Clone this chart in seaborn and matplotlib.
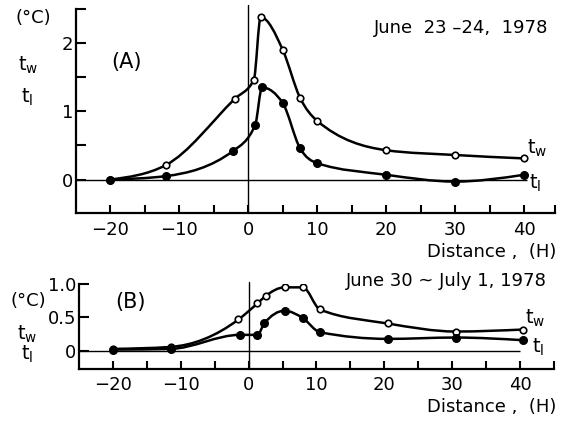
import matplotlib
matplotlib.use("Agg")
import matplotlib.pyplot as plt
from matplotlib.path import Path
from matplotlib.patches import PathPatch
import numpy as np
import pandas as pd
import seaborn as sns

# panel A, June 23-24 1978
a_tw_x = [-20, -12, -2, 0.8, 1.8, 5, 7.5, 10, 20, 30, 40]
a_tw_y = [0.0, 0.21, 1.18, 1.46, 2.38, 1.90, 1.20, 0.86, 0.43, 0.36, 0.31]
a_tl_x = [-20, -12, -2.2, 1, 2, 5, 7.5, 10, 20, 30, 40]
a_tl_y = [0.0, 0.05, 0.42, 0.80, 1.35, 1.12, 0.46, 0.24, 0.07, -0.03, 0.07]

# panel B, June 30 - July 1 1978
b_tw_x = [-20, -11.5, -1.5, 1.3, 2.5, 5.3, 8, 10.5, 20.5, 30.5, 40.5]
b_tw_y = [0.03, 0.06, 0.47, 0.71, 0.82, 0.95, 0.95, 0.62, 0.41, 0.29, 0.32]
b_tl_x = [-20, -11.5, -1.3, 1.3, 2.3, 5.3, 8, 10.5, 20.5, 30.5, 40.5]
b_tl_y = [0.02, 0.03, 0.24, 0.24, 0.41, 0.60, 0.49, 0.28, 0.18, 0.20, 0.16]

x_major = [-20, -10, 0, 10, 20, 30, 40]

sns.set_style("ticks")
plt.rcParams['font.family'] = ['DejaVu Sans']
plt.rcParams['mathtext.fontset'] = 'dejavusans'
for key in ['text.color', 'axes.labelcolor', 'xtick.color', 'ytick.color', 'axes.edgecolor']:
    plt.rcParams[key] = 'black'
FS = 13


def smooth_curve(ax, xs, ys, lw=1.8):
    # monotone cubic drawn as bezier path through the measured points
    x = np.asarray(xs, float)
    y = np.asarray(ys, float)
    h = np.diff(x)
    s = np.diff(y) / h
    n = len(x)
    m = np.zeros(n)
    for i in range(1, n - 1):
        if s[i - 1] * s[i] <= 0:
            m[i] = 0
        else:
            p = (s[i - 1] * h[i] + s[i] * h[i - 1]) / (h[i - 1] + h[i])
            m[i] = np.sign(s[i]) * min(abs(s[i - 1]), abs(s[i]), 0.5 * abs(p)) * 2
    m[0] = (3 * s[0] - m[1]) / 2
    m[-1] = (3 * s[-1] - m[-2]) / 2
    verts = [(x[0], y[0])]
    codes = [Path.MOVETO]
    for i in range(n - 1):
        verts += [(x[i] + h[i] / 3, y[i] + m[i] * h[i] / 3),
                  (x[i + 1] - h[i] / 3, y[i + 1] - m[i + 1] * h[i] / 3),
                  (x[i + 1], y[i + 1])]
        codes += [Path.CURVE4] * 3
    ax.add_patch(PathPatch(Path(verts, codes), fill=False, lw=lw, ec='black',
                           transform=ax.transData, zorder=3))


def draw_panel(ax, tw_x, tw_y, tl_x, tl_y, xlim, ylim, yticks, yticklabels, yminor, xpad, hline_end):
    ax.set_xlim(xlim)
    ax.set_ylim(ylim)
    ax.hlines(0, xlim[0], hline_end, color='black', lw=1.0, zorder=2)
    ax.axvline(0, ymin=0, ymax=1.02, color='black', lw=1.0, clip_on=False, zorder=2)
    smooth_curve(ax, tw_x, tw_y)
    smooth_curve(ax, tl_x, tl_y)
    df_w = pd.DataFrame({'x': tw_x, 'y': tw_y})
    df_l = pd.DataFrame({'x': tl_x, 'y': tl_y})
    sns.scatterplot(data=df_w, x='x', y='y', ax=ax, marker='o', s=22, color='white',
                    edgecolor='black', linewidth=1.2, zorder=4, legend=False)
    sns.scatterplot(data=df_l, x='x', y='y', ax=ax, marker='o', s=30, color='black',
                    edgecolor='black', linewidth=1.0, zorder=5, legend=False)
    ax.set_xticks(x_major)
    ax.set_xticklabels([str(v).replace('-', '\u2212') for v in x_major], fontsize=FS)
    ax.set_xticks([-15, -5, 5, 15, 25, 35, xlim[1]], minor=True)
    ax.set_yticks(yticks)
    ax.set_yticklabels(yticklabels, fontsize=FS)
    ax.set_yticks(yminor, minor=True)
    ax.tick_params(axis='x', which='both', direction='in', length=6, width=1.5, pad=xpad)
    ax.tick_params(axis='y', which='both', direction='in', length=7.5, width=1.5, pad=2)
    for side in ['top', 'right']:
        ax.spines[side].set_visible(False)
    for side in ['left', 'bottom']:
        ax.spines[side].set_linewidth(1.6)
    ax.set_xlabel('')
    ax.set_ylabel('')


fig = plt.figure(figsize=(5.65, 4.22), dpi=100)
ax_a = fig.add_axes([0.1345, 0.4953, 0.8478, 0.4834])
ax_b = fig.add_axes([0.1398, 0.1256, 0.8407, 0.2014])

draw_panel(ax_a, a_tw_x, a_tw_y, a_tl_x, a_tl_y, (-25, 44.5), (-0.49, 2.5),
           [0, 1, 2], ['0', '1', '2'], [0.5, 1.5, 2.5], 6, 40.5)
draw_panel(ax_b, b_tw_x, b_tw_y, b_tl_x, b_tl_y, (-25, 45), (-0.27, 1.0),
           [0, 0.5, 1.0], ['0', '0.5', '1.0'], [], 5, 40)

tw = r'$\mathrm{t_w}$'
tl = r'$\mathrm{t_l}$'

# panel A texts
fig.text(0.0584, 0.957, '(°C)', fontsize=FS, ha='center', va='center')
fig.text(0.0496, 0.844, tw, fontsize=FS + 1, ha='center', va='center')
fig.text(0.0478, 0.770, tl, fontsize=FS + 1, ha='center', va='center')
ax_a.text(-17.7, 1.72, '(A)', fontsize=FS + 2, ha='center', va='center')
fig.text(0.970, 0.934, 'June  23 \u201324,  1978', fontsize=FS, ha='right', va='center')
fig.text(0.950, 0.649, tw, fontsize=FS + 1, ha='center', va='center')
fig.text(0.947, 0.566, tl, fontsize=FS + 1, ha='center', va='center')
fig.text(0.984, 0.403, 'Distance ,  (H)', fontsize=FS, ha='right', va='center')

# panel B texts
fig.text(0.0496, 0.287, '(°C)', fontsize=FS, ha='center', va='center')
fig.text(0.0478, 0.2085, tw, fontsize=FS + 1, ha='center', va='center')
fig.text(0.0478, 0.161, tl, fontsize=FS + 1, ha='center', va='center')
ax_b.text(-17.4, 0.73, '(B)', fontsize=FS + 2, ha='center', va='center')
fig.text(0.968, 0.334, 'June 30 ~ July 1, 1978', fontsize=FS, ha='right', va='center')
fig.text(0.947, 0.246, tw, fontsize=FS + 1, ha='center', va='center')
fig.text(0.952, 0.178, tl, fontsize=FS + 1, ha='center', va='center')
fig.text(0.984, 0.0355, 'Distance ,  (H)', fontsize=FS, ha='right', va='center')

fig.savefig('out.png', dpi=100)
